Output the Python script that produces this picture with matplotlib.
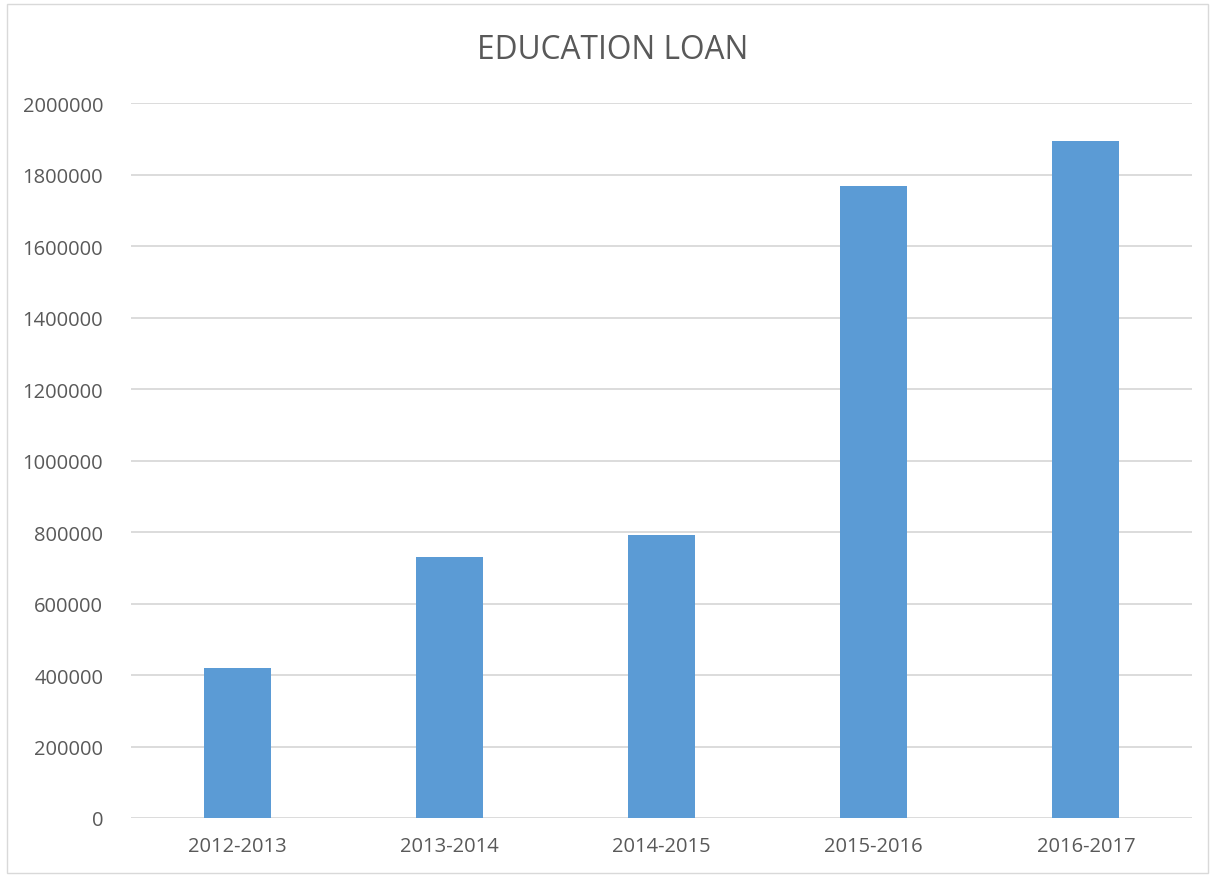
import matplotlib.pyplot as plt
from matplotlib.patches import Rectangle

years = ["2012-2013", "2013-2014", "2014-2015", "2015-2016", "2016-2017"]
loan = [419000, 730000, 792000, 1769000, 1894000]

plt.rcParams['font.family'] = ['Open Sans', 'DejaVu Sans']
text_col = "#595959"

fig = plt.figure(figsize=(12.15, 8.78), dpi=100)
ax = fig.add_axes([0.1078, 0.0672, 0.8733, 0.8143])

ax.bar(range(len(years)), loan, width=0.316, color="#5B9BD5", zorder=3)

ax.set_xlim(-0.5, len(years) - 0.5)
ax.set_ylim(0, 2000000)
ax.set_yticks(range(0, 2000001, 200000))
ax.set_yticklabels([str(v) for v in range(0, 2000001, 200000)])
ax.set_xticks(range(len(years)))
ax.set_xticklabels(years)
ax.grid(axis="y", color="#D9D9D9", linewidth=1.3, zorder=0)
ax.tick_params(axis="both", length=0, labelsize=14.5, labelcolor=text_col)
ax.tick_params(axis="y", pad=20)
ax.tick_params(axis="x", pad=13)
for s in ax.spines.values():
    s.set_visible(False)

fig.text(0.5045, 0.943, "EDUCATION LOAN", ha="center", va="center", fontsize=22.8, color=text_col)

fig.patches.append(Rectangle((0.006, 0.004), 0.988, 0.99, transform=fig.transFigure,
                             fill=False, edgecolor="#D9D9D9", linewidth=1))

fig.savefig("out.png")
